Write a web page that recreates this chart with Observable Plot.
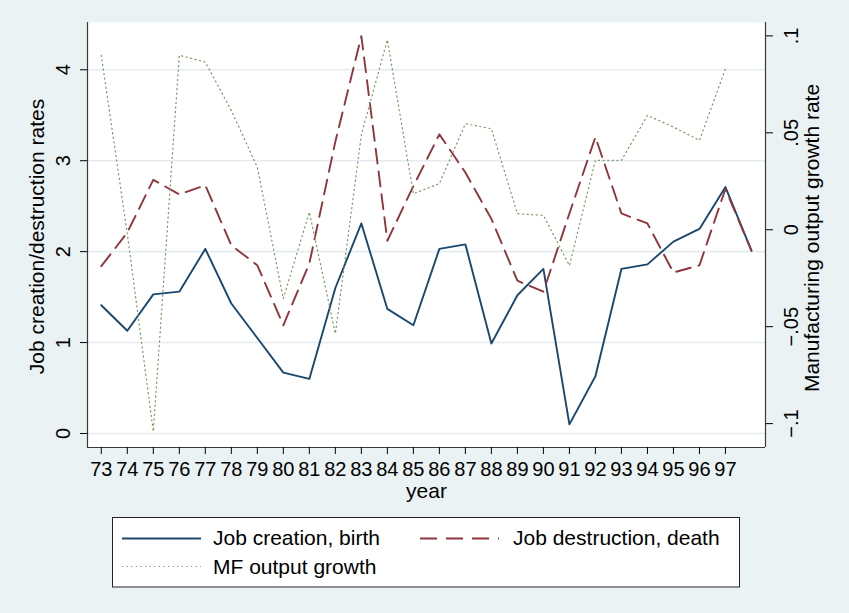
<!DOCTYPE html>
<html>
<head>
<meta charset="utf-8">
<script src="https://cdn.jsdelivr.net/npm/d3@7"></script>
<script src="https://cdn.jsdelivr.net/npm/@observablehq/plot@0.6"></script>
<style>
html, body { margin: 0; padding: 0; background: #EAF2F3; }
#chart { width: 849px; height: 613px; position: relative; overflow: hidden; }
#chart svg { display: block; }
</style>
</head>
<body>
<div id="chart"></div>
<script>
// ---- data ----
const years = [73, 74, 75, 76, 77, 78, 79, 80, 81, 82, 83, 84, 85, 86, 87, 88, 89, 90, 91, 92, 93, 94, 95, 96, 97, 98];
const creation = [1.41, 1.13, 1.53, 1.56, 2.03, 1.43, 1.05, 0.67, 0.60, 1.60, 2.31, 1.37, 1.19, 2.03, 2.08, 0.99, 1.52, 1.81, 0.10, 0.63, 1.81, 1.86, 2.11, 2.25, 2.71, 2.01];
const destruction = [1.84, 2.21, 2.79, 2.63, 2.73, 2.07, 1.85, 1.19, 1.87, 3.21, 4.37, 2.12, 2.72, 3.29, 2.87, 2.36, 1.68, 1.56, 2.42, 3.26, 2.42, 2.31, 1.77, 1.85, 2.69, 2.01];
const mfGrowth = [0.090, -0.002, -0.104, 0.090, 0.0865, 0.0615, 0.0323, -0.0355, 0.0091, -0.0536, 0.049, 0.098, 0.0186, 0.0238, 0.0547, 0.0521, 0.0083, 0.0074, -0.0184, 0.0358, 0.0358, 0.059, 0.053, 0.0461, 0.083, null];
const xTicks = [73, 74, 75, 76, 77, 78, 79, 80, 81, 82, 83, 84, 85, 86, 87, 88, 89, 90, 91, 92, 93, 94, 95, 96, 97];
const leftTicks = [0, 1, 2, 3, 4];
const rightTicks = [-0.1, -0.05, 0, 0.05, 0.1];
const rightTickLabels = ["\u2212.1", "\u2212.05", "0", ".05", ".1"];
const seriesNames = ["Job creation, birth", "Job destruction, death", "MF output growth"];
const xTitle = "year";
const leftTitle = "Job creation/destruction rates";
const rightTitle = "Manufacturing output growth rate";

// ---- styling ----
const font = "'Liberation Sans', Arial, Helvetica, sans-serif";
const cNavy = "#1A476F", cMaroon = "#90353B", cGreen = "#7F9660";
const dashPat = "15,8", dotPat = "1.2,3.4";

// second (right) axis expressed in units of the left axis
const RA = 2.2407, RB = 21.32;
const toLeft = m => (m == null ? null : RA + RB * m);
const rightPos = rightTicks.map(toLeft);
const rightLabel = new Map(rightPos.map((p, i) => [p, rightTickLabels[i]]));

const data = years.map((yr, i) => ({
  year: yr,
  creation: creation[i],
  destruction: destruction[i],
  mf: toLeft(mfGrowth[i])
}));

const xDom = [72.47, 98.54];
const yDom = [-0.154, 4.52];

const chart = Plot.plot({
  width: 849,
  height: 500,
  marginTop: 22,
  marginBottom: 53,
  marginLeft: 87,
  marginRight: 84,
  style: { background: "transparent", fontFamily: font, fontSize: "20px", color: "#000", overflow: "visible" },
  x: { type: "linear", domain: xDom },
  y: { type: "linear", domain: yDom },
  marks: [
    Plot.frame({ fill: "white", stroke: null }),
    Plot.gridY(leftTicks, { stroke: "#E4ECEF", strokeOpacity: 1, strokeWidth: 1.6 }),
    Plot.line(data, { x: "year", y: "creation", stroke: cNavy, strokeWidth: 1.9 }),
    Plot.line(data, { x: "year", y: "destruction", stroke: cMaroon, strokeWidth: 1.9, strokeDasharray: dashPat }),
    Plot.line(data, { x: "year", y: "mf", stroke: cGreen, strokeWidth: 1.2, strokeDasharray: dotPat }),
    Plot.ruleX([xDom[0], xDom[1]], { stroke: "#3a3a3a", strokeWidth: 1.2 }),
    Plot.ruleY([yDom[0]], { stroke: "#3a3a3a", strokeWidth: 1.2 }),
    Plot.axisX(xTicks, { anchor: "bottom", tickSize: 7, tickPadding: 7, label: null, tickFormat: d => String(d) }),
    Plot.axisY(leftTicks, { anchor: "left", tickSize: 7, tickPadding: 11, tickRotate: -90, label: null, tickFormat: d => String(d) }),
    Plot.axisY(rightPos, { anchor: "right", tickSize: 7, tickPadding: 11, tickRotate: -90, lineAnchor: "top", label: null, tickFormat: d => rightLabel.get(d) }),
    Plot.text([leftTitle], { text: d => d, frameAnchor: "left", textAnchor: "middle", lineAnchor: "middle", dx: -50.5, dy: 1.5, rotate: -90, fontSize: 21 }),
    Plot.text([rightTitle], { text: d => d, frameAnchor: "right", textAnchor: "middle", lineAnchor: "middle", dx: 47, dy: 3, rotate: -90, fontSize: 21 }),
    Plot.text([xTitle], { text: d => d, frameAnchor: "bottom", textAnchor: "middle", lineAnchor: "middle", dy: 43.5, fontSize: 21 })
  ]
});

const root = document.getElementById("chart");
root.appendChild(chart);

// ---- legend (below the plot) ----
const legendItems = [
  { name: seriesNames[0], stroke: cNavy, dash: null, w: 1.9, kx: 122, ky: 38.5, tx: 213, ty: 44.5 },
  { name: seriesNames[1], stroke: cMaroon, dash: "17,9", w: 1.9, kx: 420, ky: 38.5, tx: 513, ty: 44.5 },
  { name: seriesNames[2], stroke: cGreen, dash: dotPat, w: 1.1, kx: 122, ky: 66.5, tx: 213, ty: 73.5 }
];
const ns = "http://www.w3.org/2000/svg";
const leg = document.createElementNS(ns, "svg");
leg.setAttribute("width", 849);
leg.setAttribute("height", 113);
leg.setAttribute("font-family", font);
const box = document.createElementNS(ns, "rect");
box.setAttribute("x", 112.5); box.setAttribute("y", 17.5);
box.setAttribute("width", 627); box.setAttribute("height", 69.5);
box.setAttribute("fill", "white"); box.setAttribute("stroke", "#222"); box.setAttribute("stroke-width", 1);
leg.appendChild(box);
for (const it of legendItems) {
  const ln = document.createElementNS(ns, "line");
  ln.setAttribute("x1", it.kx); ln.setAttribute("x2", it.kx + 79);
  ln.setAttribute("y1", it.ky); ln.setAttribute("y2", it.ky);
  ln.setAttribute("stroke", it.stroke); ln.setAttribute("stroke-width", it.w);
  if (it.dash) ln.setAttribute("stroke-dasharray", it.dash);
  leg.appendChild(ln);
  const tx = document.createElementNS(ns, "text");
  tx.setAttribute("x", it.tx); tx.setAttribute("y", it.ty);
  tx.setAttribute("font-size", 21); tx.setAttribute("fill", "#000");
  tx.textContent = it.name;
  leg.appendChild(tx);
}
root.appendChild(leg);
</script>
</body>
</html>
